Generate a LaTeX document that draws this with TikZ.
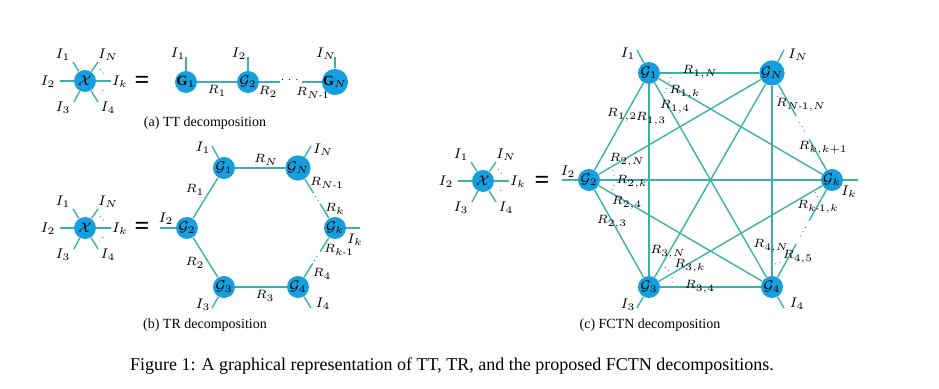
\documentclass[tikz,border=0pt]{standalone}
\usepackage{fontspec}
\setmainfont{Liberation Serif}
\usepackage{amsmath}
\usetikzlibrary{calc}
\definecolor{nb}{RGB}{22,158,222}
\definecolor{tl}{RGB}{58,178,170}
\begin{document}
\begin{tikzpicture}[x=0.5pt,y=-0.5pt,
 tn/.style={circle,fill=nb,minimum size=11pt,inner sep=0pt,font=\fontsize{7}{8}\selectfont},
 ed/.style={draw=tl,line width=0.7pt},
 lb/.style={inner sep=0pt,font=\fontsize{7}{8}\selectfont},
 rl/.style={inner sep=0pt,font=\fontsize{6.5}{8}\selectfont},
 dt/.style={draw=black!70,dotted,line width=0.4pt},
 eqs/.style={inner sep=0pt,font=\fontsize{13}{13}\selectfont\bfseries},
 subcap/.style={inner sep=0pt,font=\fontsize{7}{9}\selectfont},
 figcap/.style={inner sep=0pt,font=\fontsize{9}{11}\selectfont}]
\useasboundingbox (0,0) rectangle (939,389);

% ---------- generic X star ----------
\newcommand\xstar[1]{%
 \node[tn] (#1X) at (0,0) {$\mathcal{X}$};
 \coordinate (#1l) at (-25,0); \coordinate (#1r) at (26,0);
 \coordinate (#1ul) at (-12,-19); \coordinate (#1ur) at (13,-19);
 \coordinate (#1dl) at (-11,21); \coordinate (#1dr) at (13,21);
 \draw[ed] (#1X)--(#1l); \draw[ed] (#1X)--(#1r);
 \draw[ed] (#1X)--(#1ul); \draw[ed] (#1X)--(#1ur);
 \draw[ed] (#1X)--(#1dl); \draw[ed] (#1X)--(#1dr);
 \node[lb] (#1I1) at (-22,-26) {$I_1$};
 \node[lb] (#1IN) at (23,-26) {$I_N$};
 \node[lb] (#1I2) at (-37,1) {$I_2$};
 \node[lb] (#1Ik) at (35,1) {$I_k$};
 \node[lb] (#1I3) at (-22,27) {$I_3$};
 \node[lb] (#1I4) at (23,27) {$I_4$};
 \draw[dt] (15,-12)--(19,-7);
 \draw[dt] (18,9)--(15,13);
}

% ================= (a) TT =================
\begin{scope}[shift={(85,81)}]\xstar{a}\end{scope}
\node[eqs] (eqa) at (142,82) {=};
\node[tn] (T1) at (186,82) {$\mathbf{G}_1$};
\node[tn] (T2) at (248,82) {$\mathcal{G}_2$};
\node[tn] (TN) at (335,82) {$\mathbf{G}_N$};
\coordinate (T2r) at (280,82); \coordinate (TNl) at (302,82);
\coordinate (T1u) at (186,57); \coordinate (T2u) at (248,57); \coordinate (TNu) at (335,57);
\draw[ed] (T1)--(T2); \draw[ed] (T2)--(T2r); \draw[ed] (TNl)--(TN);
\draw[ed] (T1)--(T1u); \draw[ed] (T2)--(T2u); \draw[ed] (TN)--(TNu);
\node[lb] (Tdots) at (291,80) {\tiny$\cdots$};
\node[lb] (TI1) at (178,54) {$I_1$};
\node[lb] (TI2) at (239,54) {$I_2$};
\node[lb] (TIN) at (326,54) {$I_N$};
\node[rl] (TR1) at (217,91) {$R_1$};
\node[rl] (TR2) at (268,92) {$R_2$};
\node[rl] (TRN) at (313,93) {$R_{N\text{-}1}$};
\node[subcap] (capa) at (205,123) {(a) TT decomposition};

% ================= (b) TR =================
\begin{scope}[shift={(85,228)}]\xstar{b}\end{scope}
\node[eqs] (eqb) at (142,228) {=};
\node[tn] (B2) at (187,228) {$\mathcal{G}_2$};
\node[tn] (B1) at (224,168) {$\mathcal{G}_1$};
\node[tn] (BN) at (298,168) {$\mathcal{G}_N$};
\node[tn] (Bk) at (335,228) {$\mathcal{G}_k$};
\node[tn] (B3) at (224,287) {$\mathcal{G}_3$};
\node[tn] (B4) at (298,287) {$\mathcal{G}_4$};
\draw[ed] (B1)--(BN); \draw[ed] (B1)--(B2); \draw[ed] (B2)--(B3); \draw[ed] (B3)--(B4);
\coordinate (bn1) at ($(BN)!0.42!(Bk)$); \coordinate (bn2) at ($(BN)!0.6!(Bk)$);
\coordinate (bd1) at ($(BN)!0.47!(Bk)$); \coordinate (bd2) at ($(BN)!0.56!(Bk)$);
\draw[ed] (BN)--(bn1); \draw[ed] (bn2)--(Bk); \draw[dt] (bd1)--(bd2);
\coordinate (b41) at ($(B4)!0.4!(Bk)$); \coordinate (b42) at ($(B4)!0.6!(Bk)$);
\coordinate (b4d1) at ($(B4)!0.44!(Bk)$); \coordinate (b4d2) at ($(B4)!0.55!(Bk)$);
\draw[ed] (B4)--(b41); \draw[ed] (b42)--(Bk); \draw[dt] (b4d1)--(b4d2);
\coordinate (B1u) at (212,146); \coordinate (BNu) at (311,146);
\coordinate (B3d) at (212,308); \coordinate (B4d) at (311,308);
\coordinate (Bkr) at (360,228); \coordinate (B2l) at (160,228);
\draw[ed] (B1)--(B1u); \draw[ed] (BN)--(BNu); \draw[ed] (B3)--(B3d);
\draw[ed] (B4)--(B4d); \draw[ed] (Bk)--(Bkr); \draw[ed] (B2)--(B2l);
\node[lb] (BI1) at (203,148) {$I_1$};
\node[lb] (BIN) at (323,150) {$I_N$};
\node[lb] (BI3) at (203,305) {$I_3$};
\node[lb] (BI4) at (323,304) {$I_4$};
\node[lb] (BIk) at (355,240) {$I_k$};
\node[lb] (BI2) at (166,219) {$I_2$};
\node[rl] (BRN) at (266,160) {$R_N$};
\node[rl] (BR1) at (195,190) {$R_1$};
\node[rl] (BR2) at (195,263) {$R_2$};
\node[rl] (BR3) at (265,296) {$R_3$};
\node[rl] (BRN1) at (327,183) {$R_{N\text{-}1}$};
\node[rl] (BRk) at (335,209) {$R_k$};
\node[rl] (BRk1) at (339,250) {$R_{k\text{-}1}$};
\node[rl] (BR4) at (322,274) {$R_4$};
\node[subcap] (capb) at (205,325) {(b) TR decomposition};

% ================= (c) FCTN =================
\begin{scope}[shift={(483,181)}]\xstar{c}\end{scope}
\node[eqs] (eqc) at (542,182) {=};
\node[tn] (C1) at (649,73) {$\mathcal{G}_1$};
\node[tn] (CN) at (772,73) {$\mathcal{G}_N$};
\node[tn] (C2) at (589,180) {$\mathcal{G}_2$};
\node[tn] (Ck) at (832,180) {$\mathcal{G}_k$};
\node[tn] (C3) at (649,287) {$\mathcal{G}_3$};
\node[tn] (C4) at (772,287) {$\mathcal{G}_4$};
\foreach \a/\b in {C1/CN,C1/C2,C1/C3,C1/C4,C1/Ck,C2/CN,C2/Ck,C2/C4,C2/C3,C3/CN,C3/Ck,C3/C4,C4/CN}
  \draw[ed] (\a)--(\b);
\coordinate (cn1) at ($(CN)!0.4!(Ck)$); \coordinate (cn2) at ($(CN)!0.62!(Ck)$);
\coordinate (cnd1) at ($(CN)!0.46!(Ck)$); \coordinate (cnd2) at ($(CN)!0.56!(Ck)$);
\draw[ed] (CN)--(cn1); \draw[ed] (cn2)--(Ck); \draw[dt] (cnd1)--(cnd2);
\coordinate (ck1) at ($(Ck)!0.38!(C4)$); \coordinate (ck2) at ($(Ck)!0.6!(C4)$);
\coordinate (ckd1) at ($(Ck)!0.44!(C4)$); \coordinate (ckd2) at ($(Ck)!0.54!(C4)$);
\draw[ed] (Ck)--(ck1); \draw[ed] (ck2)--(C4); \draw[dt] (ckd1)--(ckd2);
\coordinate (C1u) at (637,50); \coordinate (CNu) at (784,50);
\coordinate (C2l) at (562,180); \coordinate (Ckr) at (858,180);
\coordinate (C3d) at (637,308); \coordinate (C4d) at (784,308);
\draw[ed] (C1)--(C1u); \draw[ed] (CN)--(CNu); \draw[ed] (C2)--(C2l);
\draw[ed] (Ck)--(Ckr); \draw[ed] (C3)--(C3d); \draw[ed] (C4)--(C4d);
\node[lb] (CI1) at (628,54) {$I_1$};
\node[lb] (CIN) at (798,55) {$I_N$};
\node[lb] (CI2) at (568,172) {$I_2$};
\node[lb] (CIk) at (849,192) {$I_k$};
\node[lb] (CI3) at (628,305) {$I_3$};
\node[lb] (CI4) at (797,304) {$I_4$};
% small dots near nodes
\draw[dt] (671,77)--(669,83); \draw[dt] (667,88)--(663,94);
\draw[dt] (613,170)--(614,176); \draw[dt] (614,185)--(612,191);
\draw[dt] (665,267)--(670,272); \draw[dt] (672,277)--(673,283);
\draw[dt] (777,97)--(782,93);
\draw[dt] (815,192)--(818,197);
\draw[dt] (775,264)--(781,262);
% R labels
\node[rl] (CR1N) at (700,72) {$R_{1,N}$};
\node[rl] (CR1k) at (685,92) {$R_{1,k}$};
\node[rl] (CR14) at (675,107) {$R_{1,4}$};
\node[rl] (CR13) at (651,119) {$R_{1,3}$};
\node[rl] (CR12) at (622,115) {$R_{1,2}$};
\node[rl] (CRN1N) at (801,105) {$R_{N\text{-}1,N}$};
\node[rl] (CRkk1) at (823,148) {$R_{k,k+1}$};
\node[rl] (CR2N) at (627,160) {$R_{2,N}$};
\node[rl] (CR2k) at (632,182) {$R_{2,k}$};
\node[rl] (CR24) at (627,203) {$R_{2,4}$};
\node[rl] (CR23) at (612,222) {$R_{2,3}$};
\node[rl] (CRk1k) at (818,207) {$R_{k\text{-}1,k}$};
\node[rl] (CR3N) at (668,252) {$R_{3,N}$};
\node[rl] (CR3k) at (690,266) {$R_{3,k}$};
\node[rl] (CR34) at (700,287) {$R_{3,4}$};
\node[rl] (CR4N) at (771,246) {$R_{4,N}$};
\node[rl] (CR45) at (798,257) {$R_{4,5}$};
\node[subcap] (capc) at (650,325) {(c) FCTN decomposition};

\node[figcap] (fig) at (452,366) {Figure 1: A graphical representation of TT, TR, and the proposed FCTN decompositions.};
\end{tikzpicture}
\end{document}
